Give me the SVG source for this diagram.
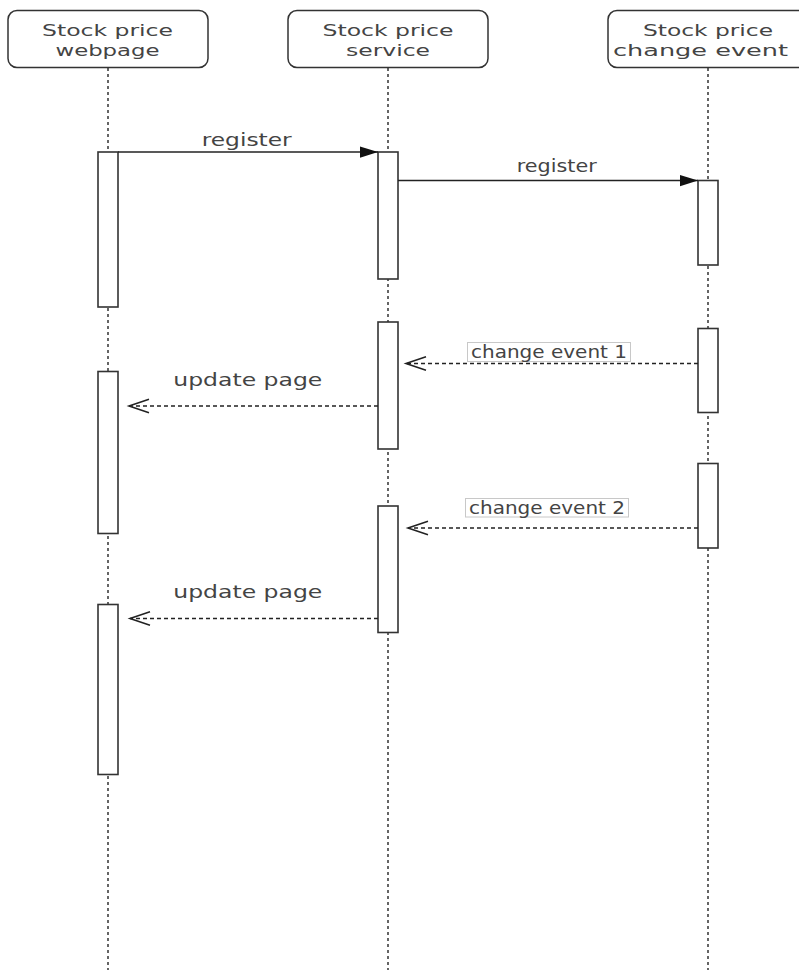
<svg xmlns="http://www.w3.org/2000/svg" width="799" height="970" viewBox="0 0 799 970">
<style>
.hdr{fill:#fff;stroke:#333;stroke-width:1.5}
.act{fill:#fff;stroke:#333;stroke-width:1.6}
.life{stroke:#333;stroke-width:1.5;stroke-dasharray:3 3;fill:none}
.msg{stroke:#222;stroke-width:1.3;fill:none}
.ret{stroke:#222;stroke-width:1.3;fill:none;stroke-dasharray:4 3}
.lblbox{fill:#fff;stroke:#c8c8c8;stroke-width:1}
text{font-family:"DejaVu Sans","Verdana",sans-serif;font-size:17px;fill:#444}
.ht{font-size:16px}
</style>
<defs>
<marker id="block" markerUnits="userSpaceOnUse" markerWidth="18" markerHeight="12" viewBox="0 0 16 10" refX="16" refY="5" orient="auto" overflow="visible">
<path d="M0,0 L16,5 L0,10 Z" fill="#111"/>
</marker>
<marker id="open" markerUnits="userSpaceOnUse" markerWidth="20" markerHeight="14" viewBox="0 0 18 12" refX="18" refY="6" orient="auto" overflow="visible">
<path d="M0,0 L18,6 L0,12" fill="none" stroke="#222" stroke-width="1.4"/>
</marker>
</defs>

<g id="lifelines">
<line class="life" x1="108" y1="68" x2="108" y2="970"/>
<line class="life" x1="388" y1="68" x2="388" y2="970"/>
<line class="life" x1="708" y1="68" x2="708" y2="970"/>
</g>

<g id="webpage">
<rect class="hdr" x="8" y="10.5" width="200" height="57" rx="9"/>
<text class="ht" x="107.5" y="36" text-anchor="middle" textLength="131" lengthAdjust="spacingAndGlyphs">Stock price</text>
<text class="ht" x="107.5" y="55.5" text-anchor="middle" textLength="104" lengthAdjust="spacingAndGlyphs">webpage</text>
</g>
<g id="service">
<rect class="hdr" x="288" y="10.5" width="200" height="57" rx="9"/>
<text class="ht" x="388" y="36" text-anchor="middle" textLength="131" lengthAdjust="spacingAndGlyphs">Stock price</text>
<text class="ht" x="388" y="55.5" text-anchor="middle" textLength="84" lengthAdjust="spacingAndGlyphs">service</text>
</g>
<g id="event">
<rect class="hdr" x="608" y="10.5" width="200" height="57" rx="9"/>
<text class="ht" x="708" y="36" text-anchor="middle" textLength="130" lengthAdjust="spacingAndGlyphs">Stock price</text>
<text class="ht" x="700.5" y="55.5" text-anchor="middle" textLength="175" lengthAdjust="spacingAndGlyphs">change event</text>
</g>

<g id="act-webpage">
<rect id="a1" class="act" x="98" y="152" width="20" height="155"/>
<rect id="a2" class="act" x="98" y="371.5" width="20" height="162"/>
<rect id="a3" class="act" x="98" y="604.5" width="20" height="170"/>
</g>
<g id="act-service">
<rect id="b1" class="act" x="378" y="152" width="20" height="127"/>
<rect id="b2" class="act" x="378" y="322" width="20" height="127"/>
<rect id="b3" class="act" x="378" y="506" width="20" height="126.5"/>
</g>
<g id="act-event">
<rect id="c1" class="act" x="698" y="180.5" width="20" height="84.5"/>
<rect id="c2" class="act" x="698" y="328.5" width="20" height="84"/>
<rect id="c3" class="act" x="698" y="463.5" width="20" height="84.5"/>
</g>

<g id="connectors">
<line class="msg" x1="118" y1="152" x2="378" y2="152" marker-end="url(#block)"/>
<line class="msg" x1="398" y1="180.5" x2="698" y2="180.5" marker-end="url(#block)"/>
<line class="ret" x1="698" y1="363.5" x2="406" y2="363.5" marker-end="url(#open)"/>
<line class="ret" x1="378" y1="406" x2="129" y2="406" marker-end="url(#open)"/>
<line class="ret" x1="698" y1="528" x2="408" y2="528" marker-end="url(#open)"/>
<line class="ret" x1="378" y1="618.5" x2="130" y2="618.5" marker-end="url(#open)"/>
</g>

<g id="labels">
<text x="246.7" y="146" text-anchor="middle" textLength="90" lengthAdjust="spacingAndGlyphs">register</text>
<text x="556.7" y="171.5" text-anchor="middle" textLength="80" lengthAdjust="spacingAndGlyphs">register</text>
<rect class="lblbox" x="467.5" y="342.5" width="163" height="19"/>
<text x="549" y="358" text-anchor="middle" textLength="156" lengthAdjust="spacingAndGlyphs">change event 1</text>
<text x="247.8" y="386" text-anchor="middle" textLength="149" lengthAdjust="spacingAndGlyphs">update page</text>
<rect class="lblbox" x="465.5" y="498.5" width="163" height="18.5"/>
<text x="547" y="514" text-anchor="middle" textLength="156" lengthAdjust="spacingAndGlyphs">change event 2</text>
<text x="247.8" y="598" text-anchor="middle" textLength="149" lengthAdjust="spacingAndGlyphs">update page</text>
</g>
</svg>
